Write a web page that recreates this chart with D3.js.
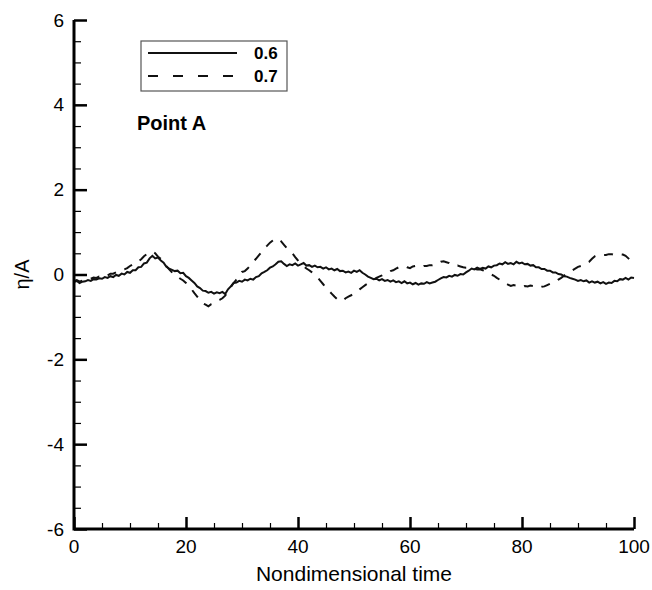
<!DOCTYPE html>
<html>
<head>
<meta charset="utf-8">
<script src="https://cdn.jsdelivr.net/npm/d3@7"></script>
<style>
  body { margin: 0; background: #fff; }
  svg { font-family: "Liberation Sans", Arial, sans-serif; }
</style>
</head>
<body>
<div id="chart"></div>
<script>
// eta/A at point A, one value every 0.5 time units
var times = d3.range(0, 100.01, 0.5);
var seriesNames = ["0.6", "0.7"];
var eta06 = [
  -0.18,-0.15,-0.2,-0.17,-0.16,-0.13,-0.15,-0.11,-0.12,-0.09,
  -0.1,-0.06,-0.08,-0.04,-0.06,-0.01,-0.03,0.02,0.0,0.06,
  0.04,0.1,0.1,0.17,0.18,0.26,0.28,0.38,0.44,0.38,
  0.4,0.33,0.28,0.18,0.14,0.11,0.08,0.09,0.03,0.04,
  -0.04,-0.08,-0.14,-0.2,-0.28,-0.32,-0.38,-0.39,-0.43,-0.41,
  -0.45,-0.42,-0.44,-0.41,-0.46,-0.35,-0.28,-0.2,-0.19,-0.15,
  -0.17,-0.12,-0.14,-0.1,-0.12,-0.06,-0.04,0.03,0.06,0.1,
  0.16,0.19,0.24,0.3,0.31,0.25,0.2,0.24,0.22,0.26,
  0.21,0.24,0.27,0.21,0.22,0.18,0.21,0.17,0.18,0.14,
  0.17,0.12,0.14,0.1,0.13,0.08,0.09,0.05,0.07,0.04,
  0.09,0.06,0.1,0.04,0.0,-0.05,-0.08,-0.11,-0.1,-0.14,
  -0.11,-0.15,-0.13,-0.17,-0.14,-0.18,-0.16,-0.2,-0.16,-0.21,
  -0.19,-0.23,-0.2,-0.24,-0.21,-0.22,-0.18,-0.21,-0.19,-0.17,
  -0.13,-0.09,-0.06,-0.07,-0.03,-0.05,-0.01,-0.03,0.01,0.0,
  0.05,0.09,0.14,0.12,0.16,0.13,0.16,0.14,0.19,0.17,
  0.21,0.22,0.26,0.24,0.29,0.25,0.27,0.24,0.3,0.26,
  0.28,0.24,0.25,0.21,0.22,0.17,0.17,0.13,0.13,0.09,
  0.09,0.05,0.05,0.01,0.0,-0.04,-0.05,-0.08,-0.1,-0.12,
  -0.15,-0.13,-0.16,-0.14,-0.19,-0.16,-0.19,-0.17,-0.21,-0.18,
  -0.22,-0.19,-0.2,-0.15,-0.16,-0.11,-0.12,-0.08,-0.12,-0.07,
  -0.08];
var eta07 = [
  -0.15,-0.13,-0.17,-0.14,-0.13,-0.1,-0.1,-0.07,-0.08,-0.05,
  -0.05,-0.01,-0.02,0.02,0.02,0.05,0.06,0.1,0.12,0.15,
  0.2,0.24,0.3,0.31,0.36,0.43,0.48,0.52,0.54,0.5,
  0.42,0.37,0.3,0.2,0.12,0.05,-0.02,-0.05,-0.1,-0.14,
  -0.2,-0.27,-0.35,-0.44,-0.52,-0.6,-0.68,-0.71,-0.75,-0.7,
  -0.68,-0.63,-0.6,-0.56,-0.5,-0.4,-0.3,-0.2,-0.12,-0.04,
  0.06,0.08,0.14,0.22,0.3,0.37,0.45,0.53,0.62,0.68,
  0.75,0.8,0.85,0.83,0.78,0.7,0.62,0.58,0.5,0.41,
  0.33,0.26,0.2,0.14,0.1,0.05,0.0,-0.07,-0.15,-0.23,
  -0.31,-0.38,-0.45,-0.52,-0.58,-0.62,-0.62,-0.56,-0.52,-0.49,
  -0.45,-0.4,-0.35,-0.3,-0.25,-0.21,-0.18,-0.12,-0.08,-0.05,
  -0.02,0.02,0.04,0.08,0.1,0.14,0.17,0.2,0.2,0.17,
  0.15,0.19,0.2,0.17,0.17,0.2,0.2,0.22,0.22,0.25,
  0.26,0.3,0.31,0.29,0.27,0.22,0.2,0.21,0.19,0.17,
  0.16,0.16,0.15,0.13,0.12,0.12,0.1,0.07,0.04,0.0,
  -0.03,-0.08,-0.12,-0.16,-0.2,-0.24,-0.27,-0.25,-0.26,-0.28,
  -0.3,-0.27,-0.28,-0.26,-0.27,-0.3,-0.31,-0.29,-0.28,-0.25,
  -0.22,-0.2,-0.17,-0.12,-0.08,-0.03,0.02,0.06,0.1,0.14,
  0.18,0.2,0.22,0.26,0.3,0.37,0.43,0.46,0.47,0.46,
  0.46,0.48,0.48,0.46,0.46,0.48,0.47,0.44,0.38,0.32,
  0.26];
var xMajor = [0, 20, 40, 60, 80, 100];
var yMajor = [-6, -4, -2, 0, 2, 4, 6];

var width = 652, height = 590;
var margin = {left: 74, right: 18, top: 20, bottom: 61};

var svg = d3.select("#chart").append("svg")
  .attr("width", width)
  .attr("height", height);

var x = d3.scaleLinear().domain([0, 100]).range([margin.left, width - margin.right]);
var y = d3.scaleLinear().domain([-6, 6]).range([height - margin.bottom, margin.top]);

// curves
var line = d3.line()
  .x(function(d) { return x(d[0]); })
  .y(function(d) { return y(d[1]); });

svg.append("path")
  .datum(d3.zip(times, eta06))
  .attr("d", line)
  .attr("fill", "none")
  .attr("stroke", "#111")
  .attr("stroke-width", 2);

svg.append("path")
  .datum(d3.zip(times, eta07))
  .attr("d", line)
  .attr("fill", "none")
  .attr("stroke", "#111")
  .attr("stroke-width", 2)
  .attr("stroke-dasharray", "9,9");

// axes: ticks point into the plot
var xMinor = d3.range(0, 101, 5).filter(function(d) { return xMajor.indexOf(d) < 0; });
var yMinor = d3.range(-6, 6.01, 0.5).filter(function(d) { return yMajor.indexOf(d) < 0; });

var xAxis = svg.append("g").attr("transform", "translate(0," + y(-6) + ")");
xAxis.append("g")
  .call(d3.axisTop(x).tickValues(xMajor).tickSize(12).tickSizeOuter(0).tickFormat(""))
  .call(function(g) { g.select(".domain").remove(); })
  .selectAll("line").attr("stroke-width", 2.5);
xAxis.append("g")
  .call(d3.axisTop(x).tickValues(xMinor).tickSize(6).tickFormat(""))
  .call(function(g) { g.select(".domain").remove(); })
  .selectAll("line").attr("stroke-width", 1.2);
xAxis.selectAll(".xlab")
  .data(xMajor)
  .enter().append("text")
  .attr("x", function(d) { return x(d); })
  .attr("y", 24)
  .attr("text-anchor", "middle")
  .attr("font-size", 19)
  .text(function(d) { return d; });

var yAxis = svg.append("g").attr("transform", "translate(" + x(0) + ",0)");
yAxis.append("g")
  .call(d3.axisRight(y).tickValues(yMajor).tickSize(13).tickSizeOuter(0).tickFormat(""))
  .call(function(g) { g.select(".domain").remove(); })
  .selectAll("line").attr("stroke-width", 2.5);
yAxis.append("g")
  .call(d3.axisRight(y).tickValues(yMinor).tickSize(7).tickFormat(""))
  .call(function(g) { g.select(".domain").remove(); })
  .selectAll("line").attr("stroke-width", 1.2);
yAxis.selectAll(".ylab")
  .data(yMajor)
  .enter().append("text")
  .attr("x", -10)
  .attr("y", function(d) { return y(d); })
  .attr("dy", "0.35em")
  .attr("text-anchor", "end")
  .attr("font-size", 19)
  .text(function(d) { return d; });

// axis lines on top
svg.append("path")
  .attr("d", "M" + x(0) + "," + y(6) + "V" + y(-6) + "H" + x(100))
  .attr("fill", "none")
  .attr("stroke", "#000")
  .attr("stroke-width", 3);

svg.append("text")
  .attr("x", (x(0) + x(100)) / 2)
  .attr("y", 581)
  .attr("text-anchor", "middle")
  .attr("font-size", 21)
  .text("Nondimensional time");

svg.append("text")
  .attr("transform", "translate(29," + y(0) + ") rotate(-90)")
  .attr("text-anchor", "middle")
  .attr("font-size", 20)
  .text("η/A");

// legend
var legend = svg.append("g");
legend.append("rect")
  .attr("x", 141).attr("y", 41)
  .attr("width", 146).attr("height", 50)
  .attr("fill", "#fff")
  .attr("stroke", "#555")
  .attr("stroke-width", 1.2);
var dashes = [null, "10,15"];
seriesNames.forEach(function(name, i) {
  var ly = 53 + i * 23;
  legend.append("line")
    .attr("x1", 148).attr("x2", 237)
    .attr("y1", ly).attr("y2", ly)
    .attr("stroke", "#111")
    .attr("stroke-width", 2)
    .attr("stroke-dasharray", dashes[i]);
  legend.append("text")
    .attr("x", 254).attr("y", ly)
    .attr("dy", "0.35em")
    .attr("font-size", 17)
    .attr("font-weight", "bold")
    .text(name);
});

svg.append("text")
  .attr("x", 137).attr("y", 130)
  .attr("font-size", 20)
  .attr("font-weight", "bold")
  .text("Point A");
</script>
</body>
</html>
